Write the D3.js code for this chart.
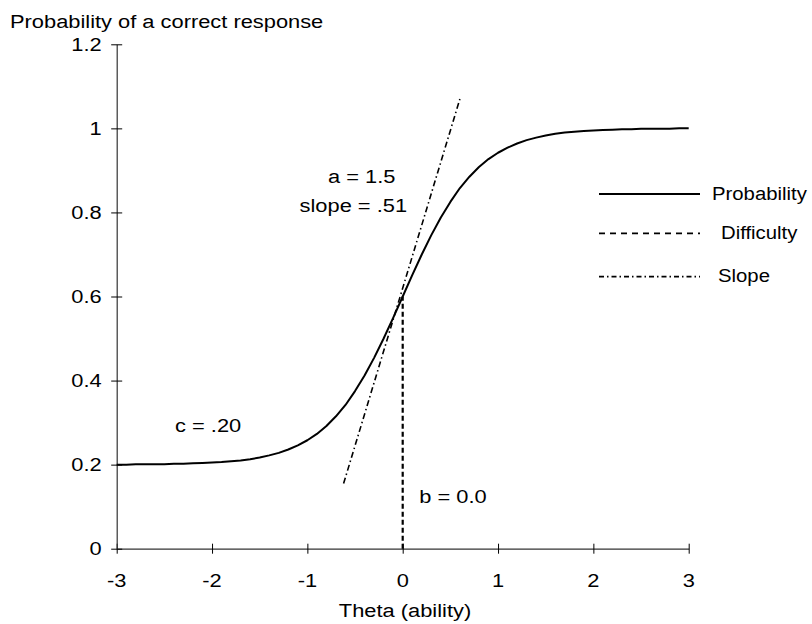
<!DOCTYPE html>
<html>
<head>
<meta charset="utf-8">
<script src="https://cdn.jsdelivr.net/npm/d3@7"></script>
<style>
  html, body { margin: 0; padding: 0; background: #fff; }
  svg { display: block; }
  text { font-family: "Liberation Sans", Arial, sans-serif; fill: #000; }
</style>
</head>
<body>
<div id="chart"></div>
<script>
// probability curve
const thetaValues = [
  -3.0, -2.9, -2.8, -2.7, -2.6, -2.5, -2.4, -2.3, -2.2, -2.1,
  -2.0, -1.9, -1.8, -1.7, -1.6, -1.5, -1.4, -1.3, -1.2, -1.1,
  -1.0, -0.9, -0.8, -0.7, -0.6, -0.5, -0.4, -0.3, -0.2, -0.1,
  0.0, 0.1, 0.2, 0.3, 0.4, 0.5, 0.6, 0.7, 0.8, 0.9,
  1.0, 1.1, 1.2, 1.3, 1.4, 1.5, 1.6, 1.7, 1.8, 1.9,
  2.0, 2.1, 2.2, 2.3, 2.4, 2.5, 2.6, 2.7, 2.8, 2.9, 3.0,
];
const probValues = [
  0.200, 0.200, 0.201, 0.201, 0.201, 0.201, 0.202, 0.202, 0.203, 0.204,
  0.205, 0.206, 0.208, 0.210, 0.213, 0.217, 0.222, 0.228, 0.236, 0.246,
  0.258, 0.273, 0.292, 0.315, 0.342, 0.375, 0.412, 0.454, 0.500, 0.549,
  0.600, 0.651, 0.700, 0.746, 0.788, 0.825, 0.858, 0.885, 0.908, 0.927,
  0.942, 0.954, 0.964, 0.972, 0.978, 0.983, 0.987, 0.990, 0.992, 0.994,
  0.995, 0.996, 0.997, 0.998, 0.998, 0.999, 0.999, 0.999, 0.999, 1.000, 1.000,
];

// difficulty marker (b = 0.0) and tangent line
const difficultyTheta = [0, 0];
const difficultyProb = [0, 0.6];
const slopeTheta = [-0.62, 0.6];
const slopeProb = [0.155, 1.07];

const xTicks = [-3, -2, -1, 0, 1, 2, 3];
const yTicks = [0, 0.2, 0.4, 0.6, 0.8, 1, 1.2];
const yTickLabels = ["0", "0.2", "0.4", "0.6", "0.8", "1", "1.2"];

const legendNames = ["Probability", "Difficulty", "Slope"];

const width = 812;
const height = 624;
const FONT = 19;
const STRETCH = 1.15;
const DASH_DIFF = "5,3";
const DASH_SLOPE = "6,3,1.5,3";

const x = d3.scaleLinear().domain([-3, 3]).range([116.7, 688.7]);
const y = d3.scaleLinear().domain([0, 1.2]).range([548.7, 44.3]);

const svg = d3.select("#chart").append("svg")
  .attr("width", width)
  .attr("height", height);

// text is drawn a bit wider than the font, like the source
function label(parent, px, py, str, anchor, stretch) {
  return parent.append("text")
    .attr("transform", `translate(${px},${py}) scale(${stretch || STRETCH},1)`)
    .attr("text-anchor", anchor || "start")
    .attr("font-size", FONT)
    .text(str);
}

// axes
const xAxis = svg.append("g")
  .attr("transform", `translate(0,${y(0)})`)
  .call(d3.axisBottom(x).tickValues(xTicks).tickSize(5).tickSizeOuter(0).tickFormat(""));
xAxis.selectAll(".tick line").attr("y1", -5).attr("y2", 5);

const yAxis = svg.append("g")
  .attr("transform", `translate(${x(-3)},0)`)
  .call(d3.axisLeft(y).tickValues(yTicks).tickSize(5).tickSizeOuter(0).tickFormat(""));
yAxis.selectAll(".tick line").attr("x1", -5.5).attr("x2", 5.5);

[xAxis, yAxis].forEach((g) => {
  g.select(".domain").attr("stroke", "#333").attr("stroke-width", 1.2);
  g.selectAll(".tick line").attr("stroke", "#000").attr("stroke-width", 1);
});

xTicks.forEach((t) => label(svg, x(t), y(0) + 38, String(t), "middle"));
yTicks.forEach((t, i) => label(svg, x(-3) - 15, y(t) + 6.5, yTickLabels[i], "end"));

label(svg, 10, 28.3, "Probability of a correct response");
label(svg, 405, 617, "Theta (ability)", "middle");

// series
const line = d3.line()
  .x((d) => x(d[0]))
  .y((d) => y(d[1]));

svg.append("path")
  .datum(d3.zip(slopeTheta, slopeProb))
  .attr("fill", "none")
  .attr("stroke", "#000")
  .attr("stroke-width", 1.6)
  .attr("stroke-dasharray", DASH_SLOPE)
  .attr("d", line);

svg.append("path")
  .datum(d3.zip(difficultyTheta, difficultyProb))
  .attr("fill", "none")
  .attr("stroke", "#000")
  .attr("stroke-width", 2.2)
  .attr("stroke-dasharray", DASH_DIFF)
  .attr("d", line);

svg.append("path")
  .datum(d3.zip(thetaValues, probValues))
  .attr("fill", "none")
  .attr("stroke", "#000")
  .attr("stroke-width", 2)
  .attr("stroke-linejoin", "round")
  .attr("d", line);

// annotations
label(svg, 361.7, 183.3, "a = 1.5", "middle");
label(svg, 353.3, 211.7, "slope = .51", "middle");
label(svg, 175, 431.7, "c = .20");
label(svg, 419.3, 503.3, "b = 0.0");

// legend
const legendY = [194, 233.3, 276.7];
const legendTextX = [712, 721, 718];
const legendDash = [null, "6,5", "5,3,1.5,3"];
const legend = svg.append("g");
legendNames.forEach((name, i) => {
  legend.append("line")
    .attr("x1", 599).attr("x2", 700)
    .attr("y1", legendY[i]).attr("y2", legendY[i])
    .attr("stroke", "#000")
    .attr("stroke-width", i === 0 ? 2 : 1.8)
    .attr("stroke-dasharray", legendDash[i]);
  label(legend, legendTextX[i], legendY[i] + 5.5, name, "start", 1.07);
});
</script>
</body>
</html>
